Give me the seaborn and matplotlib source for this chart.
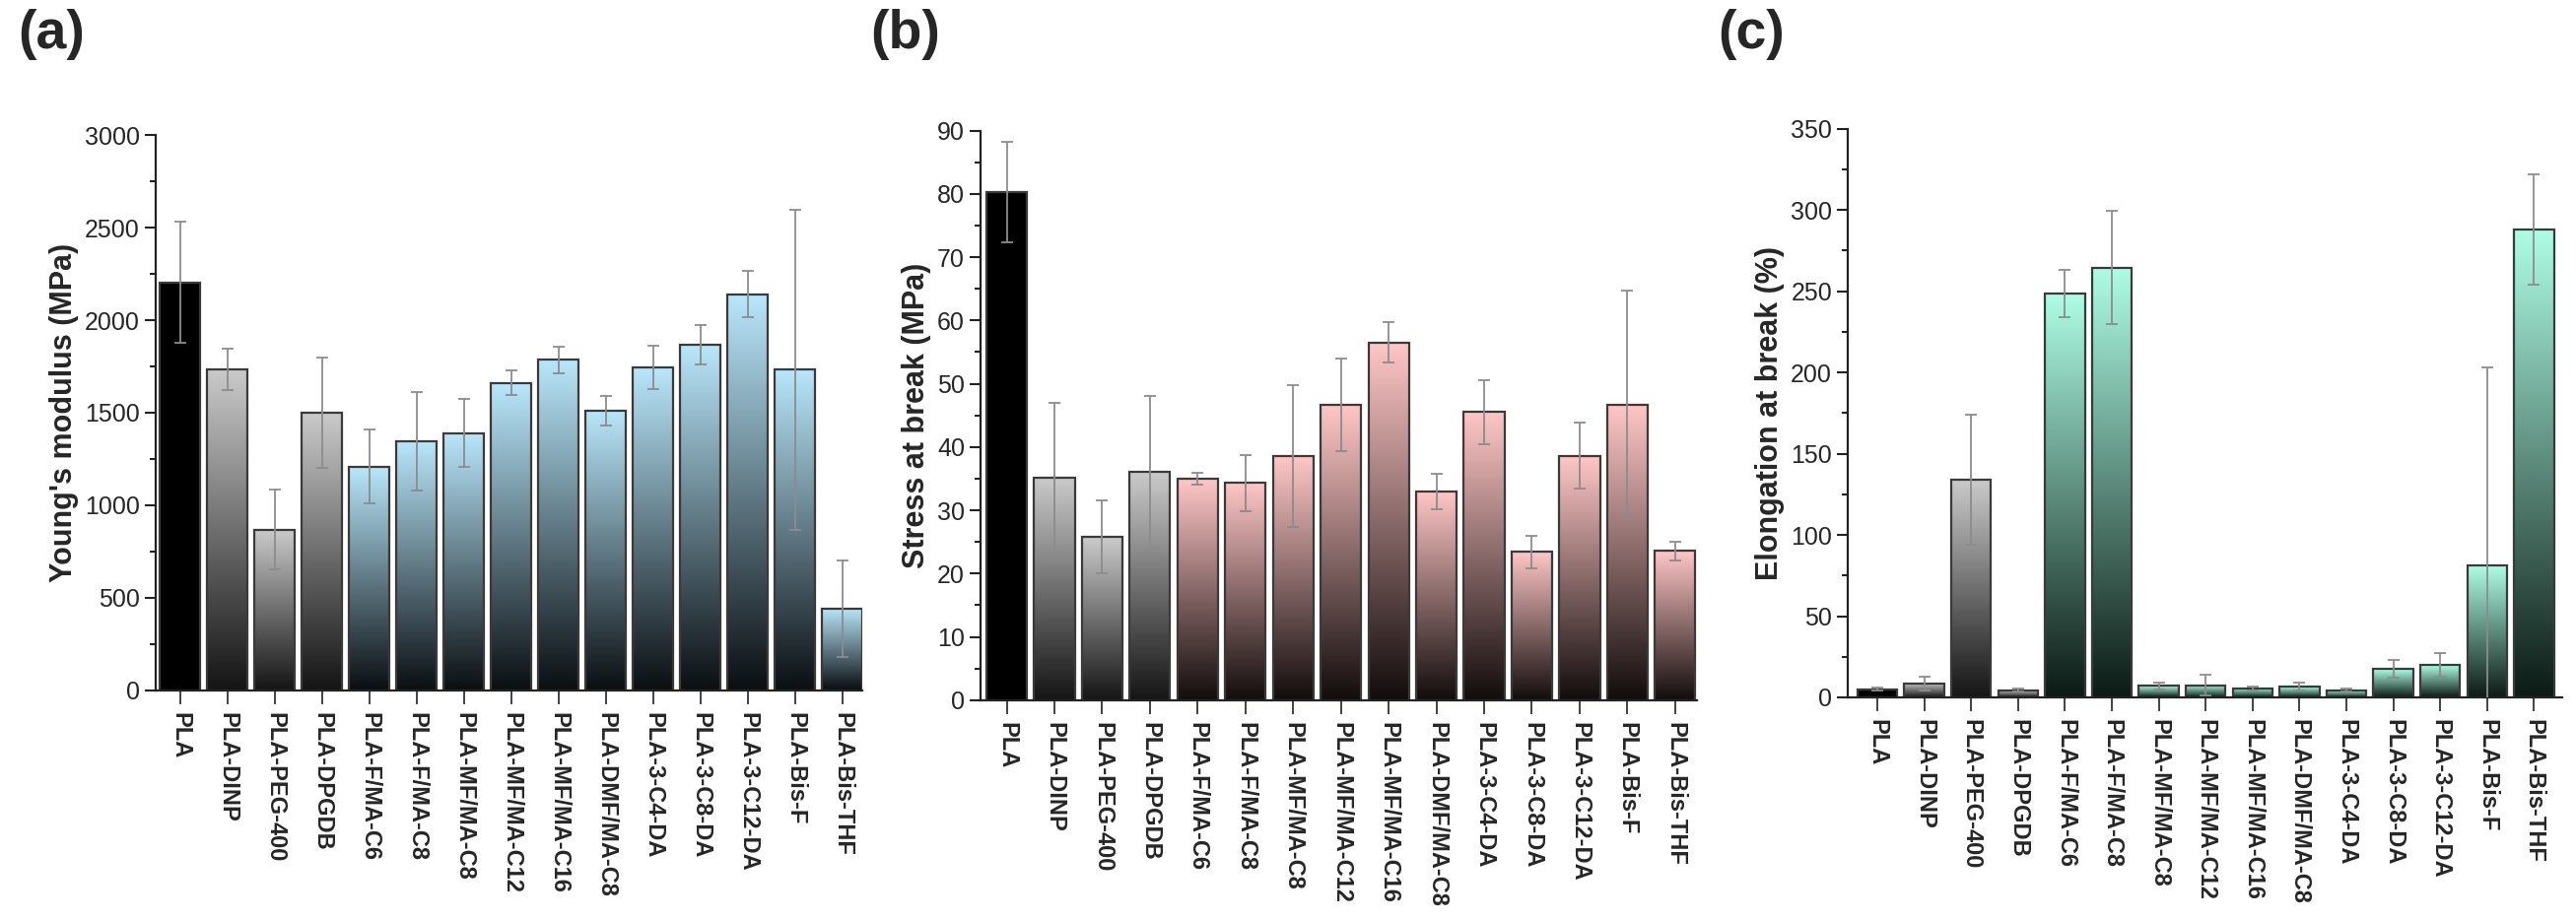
import matplotlib
matplotlib.use("Agg")
import matplotlib.pyplot as plt
import matplotlib.colors as mcolors
from matplotlib.ticker import MultipleLocator, AutoMinorLocator
import seaborn as sns
import numpy as np
import pandas as pd

samples = ["PLA", "PLA-DINP", "PLA-PEG-400", "PLA-DPGDB", "PLA-F/MA-C6", "PLA-F/MA-C8",
           "PLA-MF/MA-C8", "PLA-MF/MA-C12", "PLA-MF/MA-C16", "PLA-DMF/MA-C8", "PLA-3-C4-DA",
           "PLA-3-C8-DA", "PLA-3-C12-DA", "PLA-Bis-F", "PLA-Bis-THF"]

modulus = [2205, 1732, 866, 1500, 1208, 1344, 1389, 1661, 1785, 1512, 1745, 1867, 2141, 1732, 438]
modulus_err = [330, 112, 216, 298, 200, 265, 183, 65, 70, 80, 117, 106, 125, 865, 262]

stress = [80.3, 35.2, 25.8, 36.1, 35.0, 34.3, 38.6, 46.7, 56.5, 33.0, 45.5, 23.4, 38.6, 46.7, 23.6]
stress_err = [8.0, 11.8, 5.7, 12.0, 1.0, 4.5, 11.2, 7.3, 3.2, 2.8, 5.1, 2.6, 5.2, 18.1, 1.5]

elongation = [5, 8.5, 134, 4.5, 248.6, 264.6, 7, 7.5, 5.5, 6.5, 4.5, 17.5, 20, 81, 288]
elongation_err = [1, 4.5, 40, 1, 14.5, 35, 2, 6.5, 1, 2.5, 1, 5.5, 7, 122, 34]

# bar groups: 0 = neat PLA, 1 = commercial plasticizers, 2 = new plasticizers
groups = [0, 1, 1, 1, 2, 2, 2, 2, 2, 2, 2, 2, 2, 2, 2]

sns.set_style("ticks")
plt.rcParams["font.family"] = ["Liberation Sans", "DejaVu Sans"]

narrow = ["Liberation Sans Narrow", "Liberation Sans", "DejaVu Sans"]


def gradient_bars(ax, top_colors, bottom_colors):
    for patch, top, bottom in zip(ax.patches, top_colors, bottom_colors):
        x, y = patch.get_x(), patch.get_y()
        w, h = patch.get_width(), patch.get_height()
        c_top = np.array(mcolors.to_rgb(top))
        c_bot = np.array(mcolors.to_rgb(bottom))
        t = np.linspace(0, 1, 256)[:, None]
        grad = (c_bot * (1 - t) + c_top * t)[:, None, :]
        im = ax.imshow(grad, extent=[x, x + w, y, y + h], origin="lower",
                       aspect="auto", interpolation="bilinear", zorder=1)
        im.set_clip_path(patch)
        patch.set_facecolor("none")
        patch.set_edgecolor("#3a3a3a")
        patch.set_linewidth(1.6)
        patch.set_zorder(2)


def panel(rect, values, errors, light, ylabel, ymax, step, xlim, tag, tag_x):
    ax = fig.add_axes(rect)
    df = pd.DataFrame({"sample": samples, "value": values})
    sns.barplot(data=df, x="sample", y="value", hue="sample", palette=["#000000"] * len(samples),
                legend=False, width=0.85, ax=ax, zorder=2)
    tops = []
    bottoms = []
    for g in groups:
        if g == 0:
            tops.append("#000000")
            bottoms.append("#000000")
        elif g == 1:
            tops.append("#cacaca")
            bottoms.append("#151515")
        else:
            tops.append(light[0])
            bottoms.append(light[1])
    gradient_bars(ax, tops, bottoms)
    ax.errorbar(np.arange(len(samples)), values, yerr=errors, fmt="none",
                ecolor="#8c8c8c", elinewidth=1.3, capsize=4, capthick=1.3, zorder=3)
    ax.set_xlim(*xlim)
    ax.set_ylim(0, ymax)
    ax.yaxis.set_major_locator(MultipleLocator(step))
    ax.yaxis.set_minor_locator(AutoMinorLocator(2))
    ax.set_xlabel("")
    ax.set_ylabel(ylabel, fontsize=22, fontweight="bold", labelpad=4)
    ax.set_xticks(range(len(samples)))
    ax.set_xticklabels(samples, rotation=-90, fontsize=17, fontweight="bold")
    for lab in ax.get_yticklabels():
        lab.set_family(narrow)
        lab.set_fontsize(18)
    ax.tick_params(axis="y", which="major", direction="out", length=8, width=1.5, color="#222222")
    ax.tick_params(axis="y", which="minor", direction="out", length=4, width=1.5, color="#222222")
    ax.tick_params(axis="x", direction="out", length=10, width=1.2, color="#222222", pad=6)
    sns.despine(ax=ax)
    for s in ["left", "bottom"]:
        ax.spines[s].set_linewidth(1.6)
        ax.spines[s].set_color("#222222")
    fig.text(tag_x, 0.99, tag, fontsize=40, fontweight="bold", va="top", ha="left")
    return ax


fig = plt.figure(figsize=(26.14, 9.34), dpi=100)

panel([0.0604, 0.250, 0.2743, 0.603], modulus, modulus_err, ("#b9e7fb", "#0b0f12"),
      "Young's modulus (MPa)", 3000, 500, (-0.52, 14.42), "(a)", 0.007)
panel([0.3806, 0.239, 0.2782, 0.619], stress, stress_err, ("#ffc6c6", "#120c0c"),
      "Stress at break (MPa)", 90, 10, (-0.55, 14.46), "(b)", 0.338)
panel([0.7173, 0.242, 0.2773, 0.618], elongation, elongation_err, ("#aefde4", "#0c1a15"),
      "Elongation at break (%)", 350, 50, (-0.63, 14.6), "(c)", 0.667)

fig.savefig("out.png", dpi=100)
